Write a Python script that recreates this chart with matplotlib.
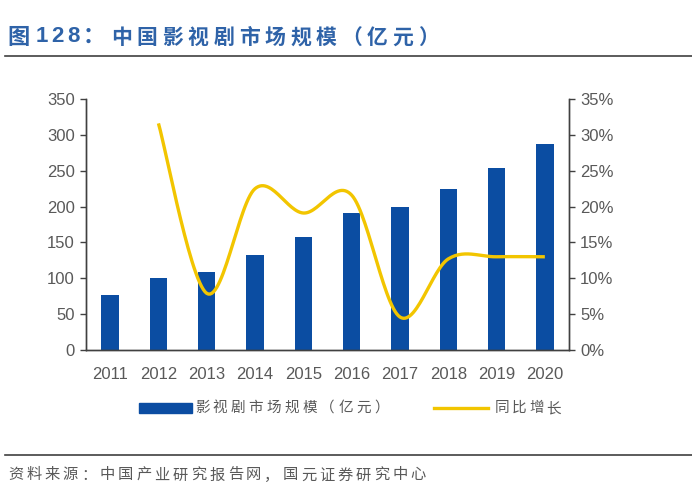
import matplotlib
matplotlib.use("Agg")
import matplotlib.pyplot as plt
from matplotlib.lines import Line2D
from matplotlib.patches import Rectangle
import numpy as np

plt.rcParams['font.family'] = ['Liberation Sans', 'Noto Sans CJK SC', 'DejaVu Sans']

years = ['2011', '2012', '2013', '2014', '2015', '2016', '2017', '2018', '2019', '2020']
market = [77, 101, 109, 133, 158, 191, 200, 225, 254, 287]
yoy = [31.6, 7.9, 22.5, 19.1, 21.6, 4.6, 12.7, 13.0, 13.0]  # 2012-2020, %

title_head = '图'
title_num = '128：'
title_body = '中国影视剧市场规模（亿元）'
legend_labels = ['影视剧市场规模（亿元）', '同比增长']
source = '资料来源：中国产业研究报告网，国元证券研究中心'

bar_color = '#0B4DA2'
line_color = '#F2C500'
grey = '#595959'
title_color = '#2F63A8'
W, H = 692, 500


def smooth(xs, ys, n=30):
    # excel-style smoothed line: cubic bezier with neighbour-based handles
    xs = np.asarray(xs, float)
    ys = np.asarray(ys, float)
    px, py = [], []
    for i in range(len(xs) - 1):
        i0 = max(i - 1, 0)
        i3 = min(i + 2, len(xs) - 1)
        c1x = xs[i] + (xs[i + 1] - xs[i0]) / 6
        c1y = ys[i] + (ys[i + 1] - ys[i0]) / 6
        c2x = xs[i + 1] - (xs[i3] - xs[i]) / 6
        c2y = ys[i + 1] - (ys[i3] - ys[i]) / 6
        t = np.linspace(0, 1, n)
        px.extend((1-t)**3*xs[i] + 3*(1-t)**2*t*c1x + 3*(1-t)*t**2*c2x + t**3*xs[i+1])
        py.extend((1-t)**3*ys[i] + 3*(1-t)**2*t*c1y + 3*(1-t)*t**2*c2y + t**3*ys[i+1])
    return px, py


def spaced(fig, x0, y, text, step, **kw):
    # letter-spaced text, one glyph at a time (pixel coords)
    for i, ch in enumerate(text):
        fig.text((x0 + i * step) / W, 1 - y / H, ch, va='center', ha='left', **kw)


fig = plt.figure(figsize=(W / 100, H / 100), dpi=100)
ax = fig.add_axes([86/W, 150/H, 483/W, 251/H])
x = np.arange(len(years))
ax.bar(x, market, width=0.36, color=bar_color, zorder=2)
ax.set_xlim(-0.5, len(years) - 0.5)
ax.set_ylim(0, 350)
ax.set_yticks(range(0, 351, 50))
ax.set_xticks(x)
ax.set_xticklabels(years)

ax2 = ax.twinx()
sx, sy = smooth(x[1:], yoy)
ax2.plot(sx, sy, color=line_color, lw=2.4, solid_capstyle='butt', zorder=3)
ax2.set_ylim(0, 35)
ax2.set_yticks(range(0, 36, 5))
ax2.set_yticklabels([f'{v}%' for v in range(0, 36, 5)])

for a in (ax, ax2):
    a.spines['top'].set_visible(False)
    for s in ('left', 'right', 'bottom'):
        a.spines[s].set_color('#404040')
        a.spines[s].set_linewidth(1.0)
    a.tick_params(axis='y', colors='#404040', labelcolor=grey, labelsize=12, length=4, width=1, pad=4)
    a.tick_params(axis='x', length=0, labelcolor=grey, labelsize=12, pad=12)

cjk = ['Noto Sans CJK SC', 'DejaVu Sans']
latin = ['Liberation Sans', 'Noto Sans CJK SC']
spaced(fig, 7, 37, title_head, 0, color=title_color, fontsize=16, fontweight='bold', family=cjk)
spaced(fig, 36, 37, title_num, 15.6, color=title_color, fontsize=16, fontweight='bold', family=latin)
spaced(fig, 111, 37, title_body, 25.6, color=title_color, fontsize=15,
       fontweight='bold', family=cjk)
fig.add_artist(Line2D([5/W, 1], [1 - 56/H] * 2, color='#404040', lw=1.2))
fig.add_artist(Line2D([5/W, 1], [1 - 455/H] * 2, color='#404040', lw=1.2))
spaced(fig, 8, 475, source, 18.3, color=grey, fontsize=11, family=cjk)

# legend
fig.add_artist(Rectangle((139/W, 1 - 413/H), 53/W, 10/H, color=bar_color,
                         transform=fig.transFigure))
spaced(fig, 195, 408, legend_labels[0], 17.9, color=grey, fontsize=10.5, family=cjk)
fig.add_artist(Line2D([434/W, 488/W], [1 - 408/H] * 2, color=line_color, lw=2.4))
spaced(fig, 495, 408, legend_labels[1], 17.2, color=grey, fontsize=10.5, family=cjk)

fig.savefig('out.png', dpi=100)
